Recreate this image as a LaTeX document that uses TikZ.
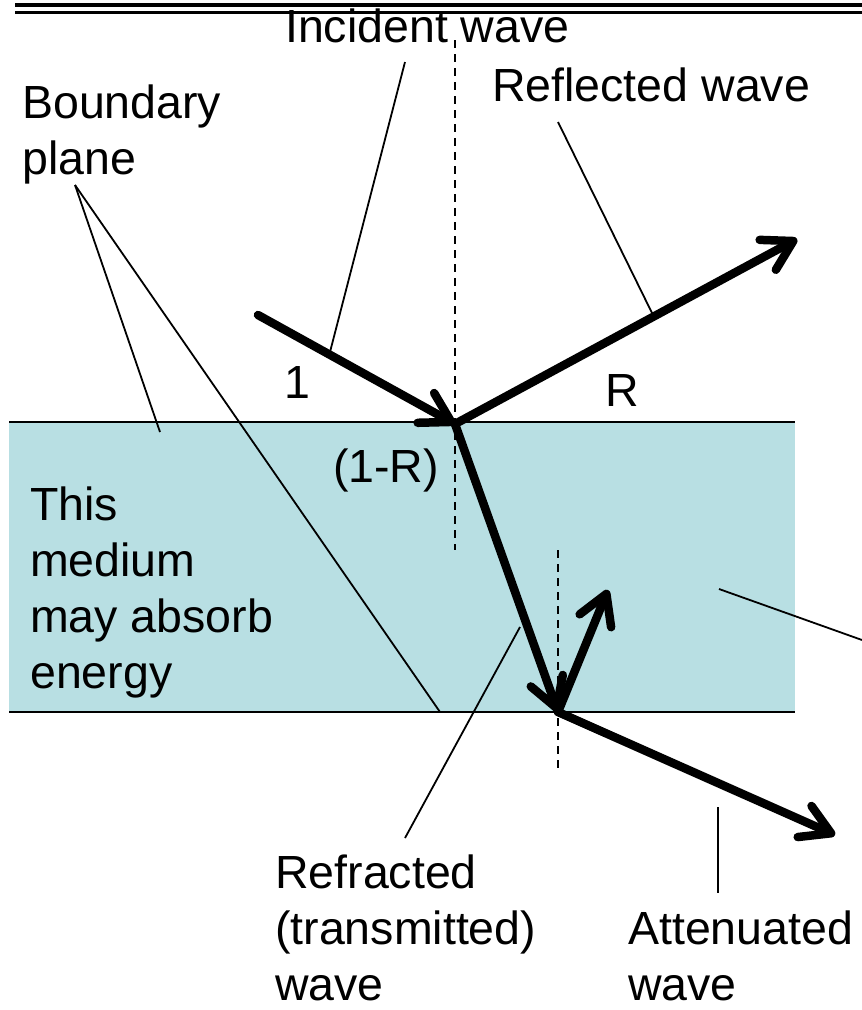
\documentclass[tikz,border=0pt]{standalone}
\usepackage{fontspec}
\setmainfont{Liberation Sans}
\usetikzlibrary{arrows.meta}
\definecolor{mediumblue}{RGB}{184,223,227}

\begin{document}
\begin{tikzpicture}[
  x=1pt, y=-1pt,
  lbl/.style={inner sep=0pt, align=left, anchor=base west, font=\fontsize{46.5}{56}\selectfont},
  mark lbl/.style={inner sep=0pt, anchor=base, font=\fontsize{46.5}{56}\selectfont},
  wave/.style={-{Straight Barb[length=29pt,width=34pt,round]}, line width=8.5pt, line cap=round},
  lead/.style={line width=1.8pt},
  plane/.style={line width=2.4pt},
  normline/.style={dash pattern=on 8pt off 6pt, line width=2pt}
]
\useasboundingbox (0,0) rectangle (862,1010);

\draw[line width=3.5pt] (15,5) -- (862,5);
\draw[line width=2.5pt] (15,12.5) -- (862,12.5);

\fill[mediumblue] (9,422) rectangle (795,712);
\draw[plane] (9,422) -- (795,422);
\draw[plane] (9,712) -- (795,712);

\coordinate (src) at (258,315);
\coordinate (hit) at (455,424);
\coordinate (refl) at (797,239);
\coordinate (exit) at (558,712);
\coordinate (back) at (608,590);
\coordinate (atten) at (835,835);

\node[lbl] (incident) at (285,42) {Incident wave};
\node[lbl] (reflected) at (492,101) {Reflected wave};
\node[lbl] (boundary) at (22,174) {Boundary\\plane};
\node[lbl] (medium) at (30,688) {This\\medium\\may absorb\\energy};
\node[lbl] (refracted) at (275,1000) {Refracted\\(transmitted)\\wave};
\node[lbl] (attenuated) at (628,1000) {Attenuated\\wave};
\node[mark lbl] (one) at (297,398) {1};
\node[mark lbl] (rr) at (622,406) {R};
\node[mark lbl] (onemr) at (386,482) {(1-R)};

\coordinate (incA) at (405,62);
\coordinate (incB) at (330,352);
\coordinate (refA) at (558,122);
\coordinate (refB) at (653,315);
\coordinate (bndA) at (75,185);
\coordinate (bndB) at (160,432);
\coordinate (bndC) at (440,712);
\coordinate (medA) at (719,589);
\coordinate (medB) at (862,640);
\coordinate (rfrA) at (405,838);
\coordinate (rfrB) at (520,627);
\coordinate (attA) at (718,807);
\coordinate (attB) at (718,893);

\draw[lead] (incA) -- (incB);
\draw[lead] (refA) -- (refB);
\draw[lead] (bndA) -- (bndB);
\draw[lead] (bndA) -- (bndC);
\draw[lead] (medA) -- (medB);
\draw[lead] (rfrA) -- (rfrB);
\draw[lead] (attA) -- (attB);

\coordinate (n1top) at (455,40);
\coordinate (n1bot) at (455,550);
\coordinate (n2top) at (558,550);
\coordinate (n2bot) at (558,768);
\draw[normline] (n1top) -- (n1bot);
\draw[normline] (n2top) -- (n2bot);

\draw[wave] (src) -- (hit);
\draw[wave] (hit) -- (exit);
\draw[wave] (hit) -- (refl);
\draw[wave] (exit) -- (back);
\draw[wave] (exit) -- (atten);
\end{tikzpicture}
\end{document}
